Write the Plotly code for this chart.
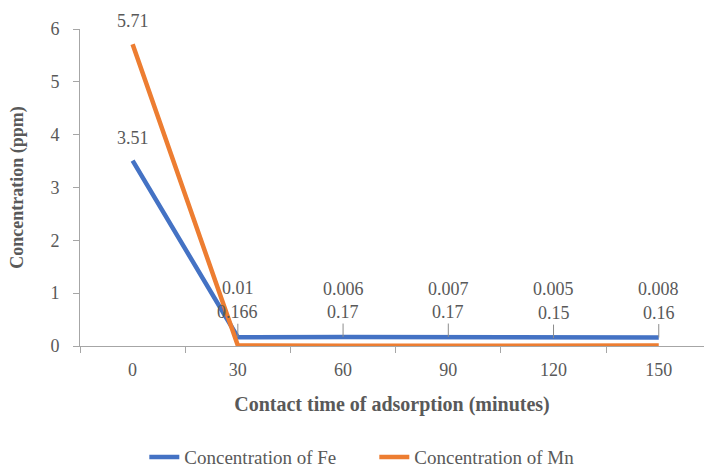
import plotly.graph_objects as go

times = ["0", "30", "60", "90", "120", "150"]
fe = [3.51, 0.166, 0.17, 0.17, 0.15, 0.16]
mn = [5.71, 0.01, 0.006, 0.007, 0.005, 0.008]
fe_labels = ["3.51", "0.166", "0.17", "0.17", "0.15", "0.16"]
mn_labels = ["5.71", "0.01", "0.006", "0.007", "0.005", "0.008"]

GRAY = "#595959"
FONT = "Liberation Serif"

fig = go.Figure()
fig.add_trace(go.Scatter(x=times, y=fe, mode="lines", name="Concentration of Fe",
                         line=dict(color="#4472C4", width=4.5)))
fig.add_trace(go.Scatter(x=times, y=mn, mode="lines", name="Concentration of Mn",
                         line=dict(color="#ED7D31", width=4.5)))

lab_font = dict(family=FONT, size=18, color=GRAY)
annotations = []
for i, (v, lab) in enumerate(zip(fe, fe_labels)):
    if i == 0:
        annotations.append(dict(x=i, y=v, xref="x", yref="y", text=lab, showarrow=False,
                                yshift=23, font=lab_font))
    else:
        annotations.append(dict(x=i, y=v, xref="x", yref="y", text=lab, showarrow=True,
                                arrowhead=0, arrowwidth=1, arrowcolor="#8c8c8c",
                                ax=0, ay=-25, font=lab_font))
for i, (v, lab) in enumerate(zip(mn, mn_labels)):
    shift = 23 if i == 0 else 57
    annotations.append(dict(x=i, y=v, xref="x", yref="y", text=lab, showarrow=False,
                            yshift=shift, font=lab_font))

fig.update_layout(
    width=704, height=470,
    margin=dict(l=80, r=0, t=29, b=124),
    paper_bgcolor="white", plot_bgcolor="white",
    font=dict(family=FONT, color=GRAY, size=18),
    annotations=annotations,
    showlegend=True,
    legend=dict(orientation="h", xref="container", yref="container",
                x=0.205, y=0.068, xanchor="left", yanchor="top",
                entrywidth=185, entrywidthmode="pixels",
                font=dict(family=FONT, size=19, color=GRAY)),
    xaxis=dict(type="category", range=[-0.5, 5.43], tickson="boundaries",
               ticks="outside", ticklen=6, tickcolor="#a6a6a6",
               showline=True, linecolor="#a6a6a6", linewidth=1,
               showgrid=False, zeroline=False, ticklabelstandoff=7,
               tickfont=dict(family=FONT, size=18, color=GRAY),
               title=dict(text="<b>Contact time of adsorption (minutes)</b>",
                          font=dict(family=FONT, size=20, color=GRAY), standoff=18)),
    yaxis=dict(range=[0, 6], dtick=1, ticks="outside", ticklen=6, tickcolor="#a6a6a6",
               showline=True, linecolor="#a6a6a6", linewidth=1,
               showgrid=False, zeroline=False, ticklabelstandoff=10,
               tickfont=dict(family=FONT, size=18, color=GRAY),
               title=dict(text="<b>Concentration (ppm)</b>",
                          font=dict(family=FONT, size=18, color=GRAY), standoff=22)),
)

fig.write_html("out.html")
